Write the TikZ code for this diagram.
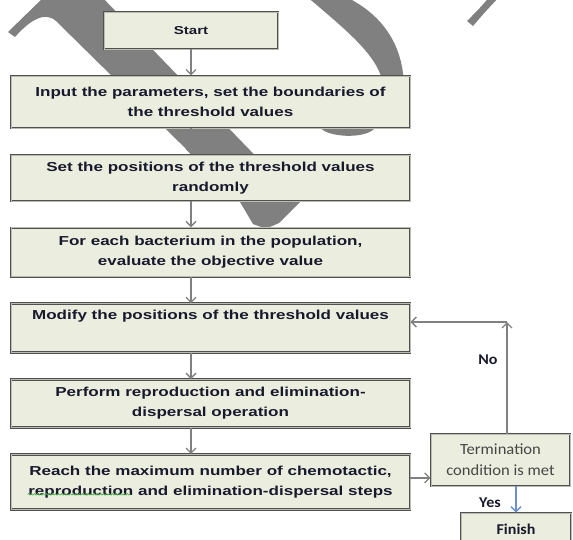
\documentclass[tikz,border=0pt]{standalone}
\usepackage{fontspec}
\newfontfamily\boxfont[FakeStretch=1.31]{Liberation Sans}
\newfontfamily\notefont[FakeStretch=1.07]{Carlito}
\usetikzlibrary{positioning,arrows.meta,decorations.pathmorphing}
\definecolor{boxfill}{RGB}{235,238,222}
\definecolor{boxline}{RGB}{80,80,80}
\definecolor{arrowgray}{RGB}{128,128,128}
\definecolor{markgray}{RGB}{128,128,128}
\definecolor{inkblue}{RGB}{25,25,45}
\definecolor{yesblue}{RGB}{105,145,205}
\definecolor{squiggle}{RGB}{80,180,80}

\begin{document}
\begin{tikzpicture}[x=1pt,y=-1pt,
  stepbox/.style={draw=boxline,line width=0.9pt,double=boxfill!55!gray,double distance=0.6pt,fill=boxfill,
    inner sep=0pt,align=center,text=inkblue,font=\boxfont\bfseries\fontsize{13}{20}\selectfont},
  mainbox/.style={stepbox,minimum width=399pt},
  notebox/.style={stepbox,text={rgb,255:red,70;green,70;blue,70},font=\notefont\fontsize{15.5}{21}\selectfont},
  lbl/.style={text=inkblue,font=\notefont\bfseries\fontsize{15}{18}\selectfont},
  flow/.style={draw=arrowgray,line width=1.3pt,-{Straight Barb[length=5pt,width=10pt]}},
  marks/.style={fill=markgray}]

\path[use as bounding box,clip] (0,0) rectangle (573,539);

\fill[marks] (8,32) -- (46,-5) -- (100,-5) -- (300,202) -- (279,223) .. controls (266,229) .. (253,224) -- (240,202)
  -- (56,21) .. controls (45,11) and (30,20) .. (15,37) -- cycle;
\fill[marks] (305,-5) .. controls (340,25) and (372,50) .. (381,76) -- (330,115) -- (320,127)
  .. controls (325,137) and (365,140) .. (375,128) .. controls (398,112) and (406,90) .. (403,73)
  .. controls (398,35) and (375,10) .. (342,-5) -- cycle;
\fill[marks] (467,21) -- (473,26) .. controls (485,12) .. (501,-5) -- (491,-5) .. controls (480,8) .. cycle;

\node[stepbox,minimum width=174pt,minimum height=37pt,font=\boxfont\bfseries\fontsize{11.5}{14}\selectfont] (start) at (191,30.5) {Start};
\node[mainbox,minimum height=52pt,below=26pt of start,xshift=19.5pt] (input) {Input the parameters, set the boundaries of\\the threshold values};
\node[mainbox,minimum height=46pt,below=26pt of input] (setpos) {Set the positions of the threshold values\\randomly};
\node[mainbox,minimum height=49pt,below=26pt of setpos] (evaluate) {For each bacterium in the population,\\evaluate the objective value};
\node[mainbox,minimum height=49pt,below=26pt of evaluate] (modify) {Modify the positions of the threshold values\\\strut};
\node[mainbox,minimum height=48pt,below=26pt of modify] (perform) {Perform reproduction and elimination-\\dispersal operation};
\node[mainbox,minimum height=55pt,below=26pt of perform] (reach) {Reach the maximum number of chemotactic,\\reproduction and elimination-dispersal steps};

\node[notebox,minimum width=139pt,minimum height=52pt] (term) at (500.5,460) {Termination\\condition is met};
\node[stepbox,minimum width=110pt,minimum height=32pt,font=\notefont\bfseries\fontsize{15}{17}\selectfont] (finish) at (516,529) {Finish};
\node[lbl] (nolbl) at (488,360) {No};
\node[lbl] (yeslbl) at (490,503) {Yes};

\foreach \a/\b in {start/input,input/setpos,setpos/evaluate,evaluate/modify,modify/perform,perform/reach}
  \draw[flow] (start.south |- \a.south) -- (start.south |- \b.north);

\coordinate (turn) at (507,322);
\draw[flow] (term.north -| turn) -- (turn);
\draw[flow] (turn) -- (turn -| modify.east);
\draw[flow] ([yshift=4pt]reach.east) -- ([yshift=4pt]reach.east -| term.west);
\draw[flow,draw=yesblue] (finish.north |- term.south) -- (finish.north);

\draw[squiggle,line width=0.6pt,decorate,decoration={snake,amplitude=0.8pt,segment length=3pt}]
  ([xshift=17pt,yshift=-12.5pt]reach.west) -- ++(103,0);
\end{tikzpicture}
\end{document}
